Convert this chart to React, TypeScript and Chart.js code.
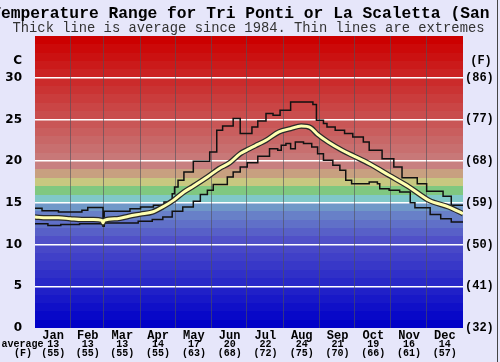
import React, { useEffect, useRef } from 'react';
import { Chart, registerables } from 'chart.js';

Chart.register(...registerables);

// ---------- data ----------
const TITLE = 'Temperature Range for Tri Ponti or La Scaletta (San Marco)';
const SUBTITLE = 'Thick line is average since 1984. Thin lines are extremes';
const MONTHS = ['Jan', 'Feb', 'Mar', 'Apr', 'May', 'Jun', 'Jul', 'Aug', 'Sep', 'Oct', 'Nov', 'Dec'];
const MONTH_AVG_C = [13, 13, 13, 14, 17, 20, 22, 24, 21, 19, 16, 14];
const MONTH_AVG_F = [55, 55, 55, 55, 63, 68, 72, 75, 70, 66, 61, 57];
const MONTH_START_DAYS = [0, 31, 59, 90, 120, 151, 181, 212, 243, 273, 304, 334, 365];
const Y_TICKS_C = [0, 5, 10, 15, 20, 25, 30];
const UNIT_LEVEL_C = 32;

const AVG_DAYS = [0, 10, 20, 30, 40, 50, 57, 58, 59, 70, 80, 90, 100, 110, 118, 127, 135, 147, 157, 166, 175, 183, 190, 197, 208, 218, 227, 235, 241, 250, 262, 272, 285, 302, 319, 336, 353, 365];
const AVG_VALS = [13.3, 13.2, 13.2, 13.1, 13.0, 13.0, 12.9, 12.6, 12.9, 13.1, 13.4, 13.65, 13.9, 14.6, 15.3, 16.3, 17.0, 18.1, 19.1, 19.8, 20.9, 21.5, 22.0, 22.5, 23.5, 23.9, 24.2, 24.0, 23.2, 22.3, 21.3, 20.6, 19.7, 18.3, 16.9, 15.3, 14.5, 13.7];

const MAX_DAYS = [0, 6, 20, 40, 45, 58, 59, 81, 90, 101, 110, 117, 119, 122, 127, 135, 149, 155, 160, 169, 175, 185, 190, 197, 203, 209, 218, 237, 240, 246, 249, 256, 264, 271, 280, 285, 296, 306, 313, 326, 334, 348, 355, 365];
const MAX_VALS = [14.35, 14.05, 13.9, 14.1, 14.45, 12.3, 14.0, 14.3, 14.5, 14.7, 15.1, 16.1, 16.9, 17.7, 18.7, 20.0, 21.1, 23.7, 24.2, 25.1, 23.3, 24.1, 24.8, 25.7, 25.5, 26.1, 27.1, 26.8, 24.9, 24.5, 24.1, 23.7, 23.3, 22.9, 22.3, 21.3, 20.3, 19.3, 18.0, 17.3, 16.4, 15.8, 14.7, 14.7];

const MIN_DAYS = [0, 11, 22, 38, 58, 59, 88, 100, 109, 117, 126, 135, 141, 147, 152, 164, 169, 175, 181, 190, 200, 207, 210, 214, 218, 222, 229, 236, 241, 246, 254, 260, 265, 270, 285, 292, 294, 302, 311, 320, 324, 337, 346, 355, 365];
const MIN_VALS = [12.5, 12.3, 12.4, 12.5, 12.2, 12.6, 12.8, 13.0, 13.3, 14.0, 14.5, 15.2, 16.0, 16.5, 17.2, 18.1, 18.7, 19.3, 19.8, 20.6, 21.5, 21.3, 21.9, 22.1, 21.5, 22.3, 22.1, 21.7, 20.9, 20.1, 19.5, 18.9, 17.7, 17.3, 17.5, 17.3, 16.7, 16.5, 16.3, 15.0, 14.4, 13.6, 13.1, 12.7, 12.7];

// ---------- styles ----------
const PAGE_BG = '#e6e6fa';
const BAND_COLORS = [
  '#0000c8', '#0808c8', '#1010c8', '#1818c8', '#2020c8', '#2828c8', '#3030c8', '#3838c8', '#4040c8', '#4848c8',
  '#5050c8', '#5860c8', '#6070c8', '#6880c8', '#7098c8',
  '#80c8c8', '#80c880', '#c8c880', '#c8a080', '#c88080',
  '#c87878', '#c86f6f', '#c86767', '#c95e5e', '#c95656', '#c94d4d', '#ca4545', '#ca3c3c', '#ca3333', '#cb2b2b',
  '#cb2222', '#cb1a1a', '#cb1111', '#cc0909', '#cc0000',
];
const MONO = '"Liberation Mono", "DejaVu Sans Mono", monospace';

const pts = (xs: number[], ys: number[]) => xs.map((x, i) => ({ x, y: ys[i] }));

const decorPlugin = {
  id: 'decor',
  beforeDraw(chart: any) {
    const { ctx, chartArea: a, scales } = chart;
    const y = scales.y;
    ctx.save();
    ctx.fillStyle = PAGE_BG;
    ctx.fillRect(0, 0, chart.width, chart.height);
    for (let i = 0; i < BAND_COLORS.length; i++) {
      const top = Math.round(y.getPixelForValue(i + 1));
      const bot = Math.round(y.getPixelForValue(i));
      ctx.fillStyle = BAND_COLORS[i];
      ctx.fillRect(a.left, top, a.right - a.left, bot - top);
    }
    ctx.restore();
  },
  beforeDatasetsDraw(chart: any) {
    const { ctx, chartArea: a, scales } = chart;
    const x = scales.x;
    ctx.save();
    ctx.strokeStyle = 'rgba(80,80,90,0.6)';
    ctx.lineWidth = 1;
    for (let i = 1; i < MONTH_START_DAYS.length - 1; i++) {
      const px = Math.round(x.getPixelForValue(MONTH_START_DAYS[i])) - 0.5;
      ctx.beginPath();
      ctx.moveTo(px, a.top);
      ctx.lineTo(px, a.bottom);
      ctx.stroke();
    }
    ctx.restore();
  },
  afterDraw(chart: any) {
    const { ctx, scales, chartArea: a } = chart;
    const x = scales.x;
    const y = scales.y;
    ctx.save();
    // title
    ctx.fillStyle = '#000';
    ctx.textAlign = 'left';
    ctx.textBaseline = 'alphabetic';
    ctx.font = `bold 16.3px ${MONO}`;
    ctx.fillText(TITLE, -8.8, 18.3);
    ctx.fillStyle = '#333';
    ctx.textAlign = 'center';
    ctx.font = `13.8px ${MONO}`;
    ctx.fillText(SUBTITLE, 248.5, 31.5);
    // unit labels
    const uy = y.getPixelForValue(UNIT_LEVEL_C);
    ctx.fillStyle = '#000';
    ctx.textBaseline = 'middle';
    ctx.textAlign = 'right';
    ctx.font = 'bold 12px "DejaVu Sans"';
    ctx.fillText('C', a.left - 13, uy);
    ctx.textAlign = 'center';
    ctx.font = `bold 12px ${MONO}`;
    ctx.fillText('(F)', a.right + 18, uy);
    // month labels
    ctx.textBaseline = 'alphabetic';
    for (let i = 0; i < MONTHS.length; i++) {
      const cx = x.getPixelForValue((MONTH_START_DAYS[i] + MONTH_START_DAYS[i + 1]) / 2);
      ctx.font = `bold 12px ${MONO}`;
      ctx.fillText(MONTHS[i], cx, 338.5);
      ctx.font = `bold 10px ${MONO}`;
      ctx.fillText(String(MONTH_AVG_C[i]), cx, 347.3);
      ctx.fillText(`(${MONTH_AVG_F[i]})`, cx, 355.5);
    }
    ctx.font = `bold 10px ${MONO}`;
    ctx.fillText('average', 22.5, 346.8);
    ctx.fillText('(F)', 23, 355.5);
    // right border
    ctx.fillStyle = '#444';
    ctx.fillRect(497, 0, 1, chart.height);
    ctx.restore();
  },
};

export default function App() {
  const ref = useRef<HTMLCanvasElement | null>(null);
  useEffect(() => {
    document.body.style.margin = '0';
    const canvas = ref.current;
    if (!canvas) return;
    const chart = new Chart(canvas, {
      type: 'line',
      data: {
        datasets: [
          {
            label: 'Average',
            data: pts(AVG_DAYS, AVG_VALS),
            borderColor: '#ffffb0',
            borderWidth: 3,
            cubicInterpolationMode: 'monotone',
            pointRadius: 0,
            fill: false,
          },
          {
            label: 'Average outline',
            data: pts(AVG_DAYS, AVG_VALS),
            borderColor: '#2a2a2a',
            borderWidth: 5.5,
            cubicInterpolationMode: 'monotone',
            pointRadius: 0,
            fill: false,
          },
          {
            label: 'Max',
            data: pts(MAX_DAYS, MAX_VALS),
            borderColor: '#111',
            borderWidth: 1.5,
            stepped: true,
            pointRadius: 0,
            fill: false,
          },
          {
            label: 'Min',
            data: pts(MIN_DAYS, MIN_VALS),
            borderColor: '#111',
            borderWidth: 1.5,
            stepped: true,
            pointRadius: 0,
            fill: false,
          },
        ],
      },
      options: {
        responsive: false,
        animation: false,
        devicePixelRatio: 1,
        layout: { padding: { top: 36, bottom: 34, left: 0, right: 0 } },
        plugins: { legend: { display: false }, tooltip: { enabled: false }, title: { display: false } },
        scales: {
          x: { type: 'linear', min: 0, max: 365, display: false },
          y: {
            type: 'linear',
            position: 'left',
            min: 0,
            max: 35,
            afterBuildTicks: (s: any) => {
              s.ticks = Y_TICKS_C.map((v) => ({ value: v }));
            },
            afterFit: (s: any) => {
              s.width = 35;
            },
            grid: {
              color: (c: any) => (c.tick && c.tick.value === 0 ? 'rgba(0,0,0,0)' : '#ffffff'),
              lineWidth: 1.5,
              drawTicks: false,
            },
            border: { display: false },
            ticks: {
              autoSkip: false,
              color: '#000',
              padding: 13,
              font: { family: 'DejaVu Sans', size: 12, weight: 'bold' },
            },
          },
          y2: {
            type: 'linear',
            position: 'right',
            min: 0,
            max: 35,
            afterBuildTicks: (s: any) => {
              s.ticks = Y_TICKS_C.map((v) => ({ value: v }));
            },
            afterFit: (s: any) => {
              s.width = 37;
            },
            grid: { display: false, drawTicks: false },
            border: { display: false },
            ticks: {
              autoSkip: false,
              color: '#000',
              padding: 2,
              font: { family: 'Liberation Mono', size: 12, weight: 'bold' },
              callback: (v: any) => `(${Math.round((Number(v) * 9) / 5 + 32)})`,
            },
          },
        },
      },
      plugins: [decorPlugin],
    } as any);
    return () => chart.destroy();
  }, []);
  return (
    <div style={{ width: 500, height: 362 }}>
      <canvas ref={ref} width={500} height={362} style={{ display: 'block' }} />
    </div>
  );
}
